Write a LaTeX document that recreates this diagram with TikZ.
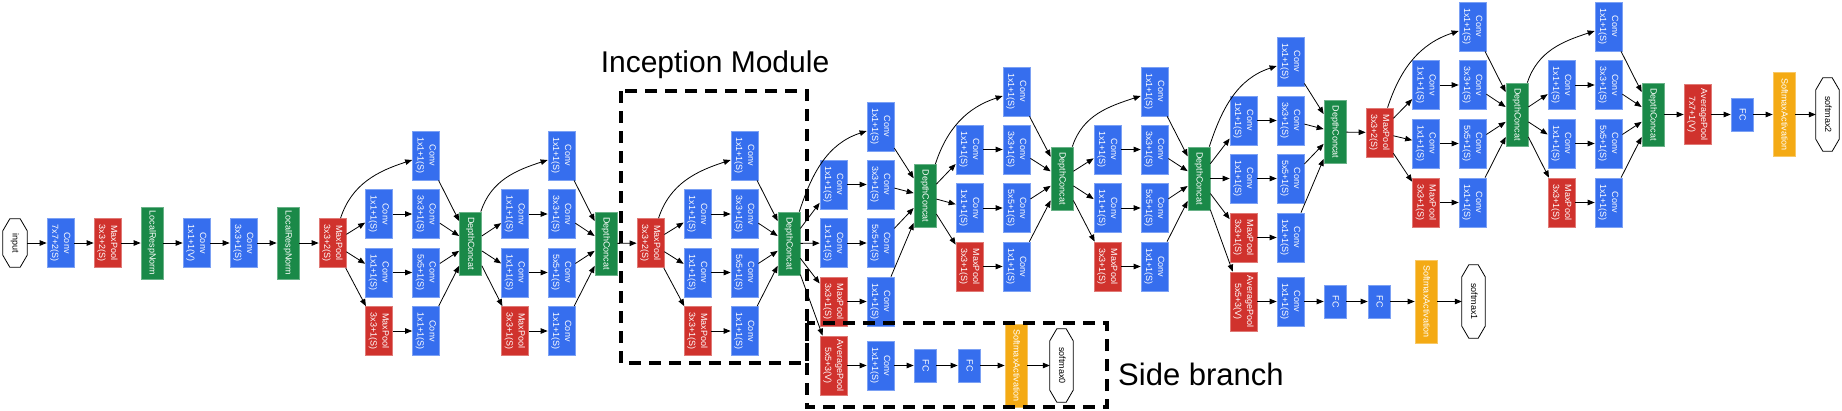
\documentclass[tikz,border=0pt]{standalone}
\usepackage{fontspec}
\usepackage{graphicx}
\usetikzlibrary{arrows.meta,calc}
\newfontfamily\lsans{Liberation Sans}
\definecolor{cblue}{RGB}{54,110,238}
\definecolor{cred}{RGB}{208,50,45}
\definecolor{cgreen}{RGB}{26,137,72}
\definecolor{corange}{RGB}{244,170,20}
\newcommand{\lbl}[1]{\rotatebox{-90}{\begin{tabular}{@{}c@{}}#1\end{tabular}}}
\tikzset{
  base/.style={inner sep=0pt, font=\lsans\fontsize{9}{12}\selectfont, text=white, line width=0.7pt},
  conv/.style={base, fill=cblue, draw=cblue!65!white, minimum width=27pt, minimum height=49pt},
  pool/.style={base, fill=cred, draw=cred!65!white, minimum width=27pt, minimum height=49pt},
  avgpool/.style={pool, minimum height=59pt},
  concat/.style={base, fill=cgreen, draw=cgreen!65!white, minimum width=22pt, minimum height=63pt},
  lrn/.style={concat, minimum height=72pt},
  fcbox/.style={base, fill=cblue, draw=cblue!65!white, minimum width=22pt, minimum height=33pt},
  smx/.style={base, fill=corange, draw=corange!65!white, minimum width=22pt, minimum height=83pt},
  term/.style={inner sep=0pt, font=\lsans\fontsize{9}{12}\selectfont, text=black, minimum width=23pt, minimum height=73pt},
  arr/.style={-{Triangle[length=7pt,width=5.5pt]}, line width=0.8pt, black},
  curv/.style={out=72, in=198},
  dbox/.style={line width=4.5pt, dash pattern=on 12pt off 8pt},
  title/.style={font=\lsans\fontsize{30}{36}\selectfont, text=black, inner sep=0pt}
}
\newcommand{\octo}[1]{\draw[line width=0.8pt] ($(#1.north west)+(7,0)$) -- ($(#1.north east)+(-7,0)$) -- ($(#1.north east)+(0,-12)$) -- ($(#1.south east)+(0,12)$) -- ($(#1.south east)+(-7,0)$) -- ($(#1.south west)+(7,0)$) -- ($(#1.south west)+(0,12)$) -- ($(#1.north west)+(0,-12)$) -- cycle;}
% #1 prefix, #2 source, #3 col1 x, #4 col2 x, #5-#8 row y, #9 concat position
\newcommand{\incmod}[9]{%
  \node[conv] (#1t) at (#4,#5) {\lbl{Conv\\1x1+1(S)}};
  \node[conv] (#1a) at (#3,#6) {\lbl{Conv\\1x1+1(S)}};
  \node[conv] (#1b) at (#4,#6) {\lbl{Conv\\3x3+1(S)}};
  \node[conv] (#1c) at (#3,#7) {\lbl{Conv\\1x1+1(S)}};
  \node[conv] (#1d) at (#4,#7) {\lbl{Conv\\5x5+1(S)}};
  \node[pool] (#1e) at (#3,#8) {\lbl{MaxPool\\3x3+1(S)}};
  \node[conv] (#1f) at (#4,#8) {\lbl{Conv\\1x1+1(S)}};
  \node[concat] (#1dc) at (#9) {\lbl{DepthConcat}};
  \draw[arr] (#2) to[curv] (#1t);
  \draw[arr] (#2) -- (#1a);
  \draw[arr] (#2) -- (#1c);
  \draw[arr] (#2) -- (#1e);
  \draw[arr] (#1a) -- (#1b);
  \draw[arr] (#1c) -- (#1d);
  \draw[arr] (#1e) -- (#1f);
  \draw[arr] (#1t) -- (#1dc);
  \draw[arr] (#1b) -- (#1dc);
  \draw[arr] (#1d) -- (#1dc);
  \draw[arr] (#1f) -- (#1dc);
}
\begin{document}
\begin{tikzpicture}[x=1pt,y=1pt]
\useasboundingbox (0,0) rectangle (1842,-410);
% stem
\node[term, minimum width=24pt, minimum height=48pt] (in) at (15,-243) {\lbl{input}};
\octo{in}
\node[conv] (c1) at (60.5,-243) {\lbl{Conv\\7x7+2(S)}};
\node[pool] (p1) at (107.5,-243) {\lbl{MaxPool\\3x3+2(S)}};
\node[lrn] (n1) at (152,-243) {\lbl{LocalRespNorm}};
\node[conv] (c2) at (196.5,-243) {\lbl{Conv\\1x1+1(V)}};
\node[conv] (c3) at (243.5,-243) {\lbl{Conv\\3x3+1(S)}};
\node[lrn] (n2) at (288,-243) {\lbl{LocalRespNorm}};
\node[pool] (p2) at (332.5,-243) {\lbl{MaxPool\\3x3+2(S)}};
\draw[arr] (in) -- (c1);
\draw[arr] (c1) -- (p1);
\draw[arr] (p1) -- (n1);
\draw[arr] (n1) -- (c2);
\draw[arr] (c2) -- (c3);
\draw[arr] (c3) -- (n2);
\draw[arr] (n2) -- (p2);
% 3a, 3b
\incmod{ia}{p2}{379}{426}{-155.5}{-214}{-272.5}{-331}{470.5,-243.5}
\incmod{ib}{iadc}{515}{561.5}{-155.5}{-214}{-272.5}{-331}{606,-243.5}
\node[pool] (p3) at (650.5,-243) {\lbl{MaxPool\\3x3+2(S)}};
\draw[arr] (ibdc) -- (p3);
% 4a, 4b
\incmod{ic}{p3}{697.5}{744.5}{-155.5}{-214}{-272.5}{-331}{789,-243.5}
\incmod{id}{icdc}{833.5}{880.5}{-126.5}{-184.5}{-243}{-301.5}{925,-196}
% side branch 0
\node[avgpool] (sa) at (833.5,-365.5) {\lbl{AveragePool\\5x5+3(V)}};
\node[conv] (sb) at (880.5,-365.5) {\lbl{Conv\\1x1+1(S)}};
\node[fcbox] (sc) at (925,-365.5) {\lbl{FC}};
\node[fcbox] (sd) at (969,-365.5) {\lbl{FC}};
\node[smx] (se) at (1016,-365.5) {\lbl{SoftmaxActivation}};
\node[term] (sf) at (1061.5,-365.5) {\lbl{softmax0}};
\octo{sf}
\draw[arr] (icdc) -- (sa);
\draw[arr] (sa) -- (sb);
\draw[arr] (sb) -- (sc);
\draw[arr] (sc) -- (sd);
\draw[arr] (sd) -- (se);
\draw[arr] (se) -- (sf);
% 4c, 4d, 4e
\incmod{ie}{iddc}{969.5}{1016.5}{-91.5}{-149.5}{-208}{-266.5}{1062,-178.5}
\incmod{if}{iedc}{1107.5}{1154.5}{-91.5}{-149.5}{-208}{-266.5}{1199,-178.5}
\incmod{ig}{ifdc}{1243.5}{1290.5}{-61.5}{-120.5}{-178.5}{-237.5}{1335,-132}
% side branch 1
\node[avgpool] (ta) at (1243.5,-301.5) {\lbl{AveragePool\\5x5+3(V)}};
\node[conv] (tb) at (1290.5,-301.5) {\lbl{Conv\\1x1+1(S)}};
\node[fcbox] (tc) at (1335,-301.5) {\lbl{FC}};
\node[fcbox] (td) at (1379,-301.5) {\lbl{FC}};
\node[smx] (te) at (1426,-301.5) {\lbl{SoftmaxActivation}};
\node[term] (tf) at (1473.5,-301.5) {\lbl{softmax1}};
\octo{tf}
\draw[arr] (ifdc) -- (ta);
\draw[arr] (ta) -- (tb);
\draw[arr] (tb) -- (tc);
\draw[arr] (tc) -- (td);
\draw[arr] (td) -- (te);
\draw[arr] (te) -- (tf);
% 5a, 5b
\node[pool] (p4) at (1379.5,-132.5) {\lbl{MaxPool\\3x3+2(S)}};
\draw[arr] (igdc) -- (p4);
\incmod{ih}{p4}{1426}{1472.5}{-26.5}{-85}{-143.5}{-202.5}{1517,-114.5}
\incmod{ii}{ihdc}{1561.5}{1608.5}{-26.5}{-85}{-143.5}{-202.5}{1653,-114.5}
% head
\node[avgpool, minimum height=60pt] (ua) at (1697.5,-114.5) {\lbl{AveragePool\\7x7+1(V)}};
\node[fcbox] (ub) at (1742,-114.5) {\lbl{FC}};
\node[smx, minimum height=84pt] (uc) at (1784,-114.5) {\lbl{SoftmaxActivation}};
\node[term] (ud) at (1827.5,-114.5) {\lbl{softmax2}};
\octo{ud}
\draw[arr] (iidc) -- (ua);
\draw[arr] (ua) -- (ub);
\draw[arr] (ub) -- (uc);
\draw[arr] (uc) -- (ud);
% annotations
\draw[dbox] (621,-91) rectangle (807,-363);
\draw[dbox] (807,-323) rectangle (1107,-407);
\node[title, anchor=base] (tim) at (715,-72.7) {Inception Module};
\node[title, font=\lsans\fontsize{31}{36}\selectfont, anchor=base west] (tsb) at (1118,-385) {Side branch};
\end{tikzpicture}
\end{document}
